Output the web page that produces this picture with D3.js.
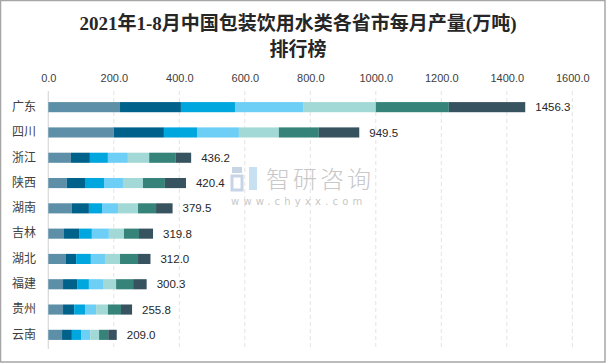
<!DOCTYPE html>
<html><head><meta charset="utf-8">
<script src="https://cdn.jsdelivr.net/npm/d3@7"></script>
<style>
html,body{margin:0;padding:0;background:#fff;}
svg{display:block;}
</style></head>
<body>
<svg id="chart" width="606" height="363"></svg>
<script>
const title1 = "2021年1-8月中国包装饮用水类各省市每月产量(万吨)";
const title2 = "排行榜";
const categories = ["广东","四川","浙江","陕西","湖南","吉林","湖北","福建","贵州","云南"];
const totals = [1456.3, 949.5, 436.2, 420.4, 379.5, 319.8, 312.0, 300.3, 255.8, 209.0];
const seriesNames = ["1-2月","3月","4月","5月","6月","7月","8月"];
const s1 = [219, 200, 69, 56, 72, 48, 54, 45, 45, 42];
const s2 = [186, 153, 58, 56, 52, 46, 31, 43, 34, 30];
const s3 = [165, 101, 55, 58, 40, 39, 45, 36, 33, 28];
const s4 = [208, 128, 61, 58, 49, 52, 43, 43, 34, 28];
const s5 = [222, 122, 65, 61, 61, 46, 46, 40, 36, 27];
const s6 = [223, 122, 80, 67, 55, 46, 55, 52, 40, 28];
const s7 = [233.3, 123.5, 48.2, 64.4, 50.5, 42.8, 38, 41.3, 33.8, 26];
const ticks = [0,200,400,600,800,1000,1200,1400,1600];
const colors = ["#5D8FA8","#00618A","#00A6DE","#6DCFF6","#A2D9D6","#358379","#37535F"];

const series = [s1,s2,s3,s4,s5,s6,s7];
const rows = categories.map((c,i)=>{
  const o = {cat:c, total: totals[i]};
  seriesNames.forEach((n,j)=>o[n]=series[j][i]);
  return o;
});

const svg = d3.select("#chart");
svg.append("rect").attr("x",0.5).attr("y",0.5).attr("width",604.5).attr("height",361.5)
  .attr("fill","#fff").attr("stroke","#a6a6a6").attr("stroke-width",1.5);

const tf = "'Liberation Serif','Noto Sans CJK SC',serif";
svg.append("text").attr("x",298).attr("y",30).attr("text-anchor","middle")
  .attr("font-family",tf).attr("font-weight","bold")
  .attr("font-size",19).attr("fill","#262626").text(title1);
svg.append("text").attr("x",298).attr("y",56).attr("text-anchor","middle")
  .attr("font-family",tf).attr("font-weight","bold")
  .attr("font-size",19).attr("fill","#262626").text(title2);

const x = d3.scaleLinear().domain([0,1600]).range([48.3, 572.3]);
const y = d3.scaleBand().domain(categories).range([94.5, 347.5]).paddingInner(0.6).paddingOuter(0.3);

const grid = svg.append("g");
grid.selectAll("line").data(ticks.slice(1)).join("line")
  .attr("x1",d=>x(d)).attr("x2",d=>x(d)).attr("y1",91).attr("y2",349)
  .attr("stroke","#e3e3e3").attr("stroke-width",1).attr("stroke-dasharray","4,3");

const xAxis = d3.axisTop(x).tickValues(ticks).tickFormat(d3.format(".1f")).tickSize(0).tickPadding(0);
const gx = svg.append("g").attr("transform","translate(0,82)").call(xAxis);
gx.select(".domain").remove();
gx.selectAll("text").attr("font-family","'Liberation Sans','Noto Sans',sans-serif").attr("font-size",11).attr("fill","#404040");

svg.append("line").attr("x1",48.3).attr("x2",48.3).attr("y1",91).attr("y2",349)
  .attr("stroke","#d9d9d9").attr("stroke-width",1.2);

const gy = svg.append("g").attr("transform","translate(36,0)")
  .call(d3.axisLeft(y).tickSize(0).tickPadding(0));
gy.select(".domain").remove();
gy.selectAll("text").attr("font-family","'Noto Sans CJK SC',sans-serif").attr("font-size",12).attr("fill","#404040");

// watermark
const wm = svg.append("g");
wm.append("rect").attr("x",232).attr("y",167).attr("width",10).attr("height",6).attr("fill","#c7d4e6");
wm.append("rect").attr("x",232).attr("y",176).attr("width",10).attr("height",14).attr("fill","none").attr("stroke","#c7d4e6").attr("stroke-width",3);
wm.append("rect").attr("x",249).attr("y",167).attr("width",8).attr("height",23).attr("fill","#c7e0f2");
wm.append("text").attr("x",266).attr("y",188).attr("font-family","'Noto Sans CJK SC',sans-serif")
  .attr("font-size",24).attr("font-weight",300).attr("fill","#c8c8c8").attr("letter-spacing",3).text("智研咨询");
wm.append("text").attr("x",231).attr("y",205).attr("font-family","'DejaVu Sans',sans-serif")
  .attr("font-size",10).attr("fill","#c8c8c8").attr("letter-spacing",4.2).text("www.chyxx.com");

const stack = d3.stack().keys(seriesNames)(rows);
svg.append("g").selectAll("g").data(stack).join("g")
  .attr("fill",(d,i)=>colors[i])
  .selectAll("rect").data(d=>d).join("rect")
  .attr("x",d=>x(d[0])).attr("width",d=>x(d[1])-x(d[0]))
  .attr("y",d=>y(d.data.cat)).attr("height",y.bandwidth());

svg.append("g").selectAll("text").data(rows).join("text")
  .attr("x",d=>x(d.total)+10).attr("y",d=>y(d.cat)+y.bandwidth()/2)
  .attr("dy","0.36em").attr("font-family","'Liberation Sans','Noto Sans',sans-serif")
  .attr("font-size",11.5).attr("fill","#262626").text(d=>d3.format(".1f")(d.total));
</script>
</body></html>
